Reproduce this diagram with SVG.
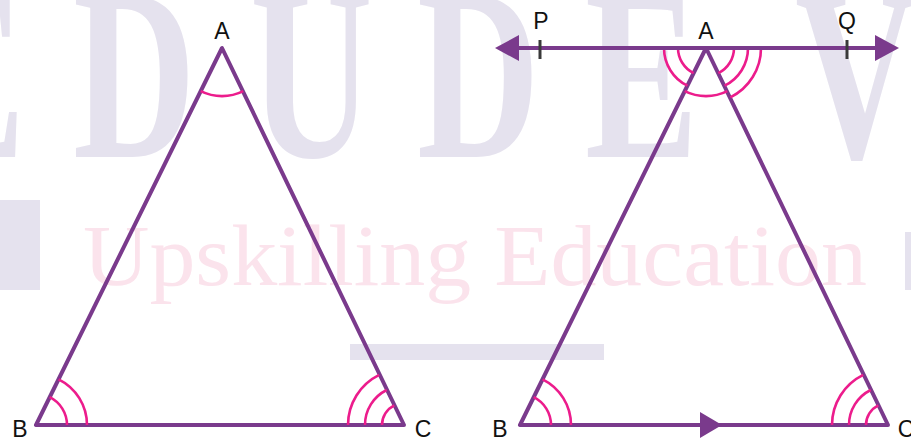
<svg xmlns="http://www.w3.org/2000/svg" width="911" height="441" viewBox="0 0 911 441">
  <style>
    .edge { stroke: #7a3a8c; stroke-width: 4; fill: none; stroke-linecap: round; stroke-linejoin: round; }
    .arc { stroke: #ec1c8c; stroke-width: 2.6; fill: none; }
    .head { fill: #7a3a8c; }
    .tick { stroke: #3a3a3a; stroke-width: 3; }
    .lbl { font-family: "Liberation Sans", Arial, sans-serif; font-size: 23px; fill: #111; text-anchor: middle; }
    .wm1 { font-family: "Liberation Serif", "Times New Roman", serif; font-size: 170px; font-weight: bold; fill: #e5e2ee; }
    .wm2 { font-family: "Liberation Serif", "Times New Roman", serif; font-size: 72px; fill: #fbe3ec; }
  </style>
  <rect width="911" height="441" fill="#ffffff"/>

  <g id="watermark">
    <text class="wm1" transform="scale(1,1.45)" y="108.3"><tspan x="-88">E</tspan><tspan x="73">D</tspan><tspan x="250">U</tspan><tspan x="417">D</tspan><tspan x="585">E</tspan><tspan x="795">V</tspan></text>
    <text class="wm2" transform="scale(1,1.2)" x="83" y="237.5" textLength="784" lengthAdjust="spacingAndGlyphs">Upskilling Education</text>
    <rect x="350" y="344" width="254" height="16" fill="#e5e2ee"/>
    <path d="M0 200 H40 V290 H0 Z" fill="#e5e2ee"/>
    <rect x="905" y="232" width="6" height="58" fill="#e5e2ee"/>
  </g>

  <g id="triangle-left">
    <path class="edge" d="M222 48 L36 425 L404 425 Z"/>
    <path class="arc" d="M200.7 91.1 A48 48 0 0 0 243.3 91.1"/>
    <path class="arc" d="M67 425 A31 31 0 0 0 49.7 397.2"/>
    <path class="arc" d="M87 425 A51 51 0 0 0 58.6 379.3"/>
    <path class="arc" d="M382 425 A22 22 0 0 1 394.3 405.3"/>
    <path class="arc" d="M365 425 A39 39 0 0 1 386.7 390"/>
    <path class="arc" d="M348 425 A56 56 0 0 1 379.2 374.8"/>
    <text class="lbl" x="222" y="39">A</text>
    <text class="lbl" x="20" y="437">B</text>
    <text class="lbl" x="423" y="437">C</text>
  </g>

  <g id="triangle-right">
    <path class="edge" d="M706 48 L520 425 L888 425 Z"/>
    <path class="arc" d="M551 425 A31 31 0 0 0 533.7 397.2"/>
    <path class="arc" d="M571 425 A51 51 0 0 0 542.6 379.3"/>
    <path class="arc" d="M866 425 A22 22 0 0 1 878.3 405.3"/>
    <path class="arc" d="M849 425 A39 39 0 0 1 870.7 390"/>
    <path class="arc" d="M832 425 A56 56 0 0 1 863.2 374.8"/>
    <path class="arc" d="M678 48 A28 28 0 0 0 693.6 73.1"/>
    <path class="arc" d="M664 48 A42 42 0 0 0 687.4 85.7"/>
    <path class="arc" d="M684.7 91.1 A48 48 0 0 0 727.3 91.1"/>
    <path class="arc" d="M734 48 A28 28 0 0 1 718.4 73.1"/>
    <path class="arc" d="M748 48 A42 42 0 0 1 724.6 85.7"/>
    <path class="arc" d="M761 48 A55 55 0 0 1 730.4 97.3"/>
    <text class="lbl" x="706" y="39">A</text>
    <text class="lbl" x="500" y="437">B</text>
    <text class="lbl" x="906" y="437">C</text>
  </g>

  <g id="connectors">
    <line class="edge" x1="505" y1="48" x2="889" y2="48"/>
    <polygon class="head" points="495,48 519,35 519,61"/>
    <polygon class="head" points="899,48 875,35 875,61"/>
    <line class="tick" x1="540" y1="40" x2="540" y2="59"/>
    <line class="tick" x1="847" y1="40" x2="847" y2="59"/>
    <polygon class="head" points="722,425 700,412 700,438"/>
  </g>

  <g id="labels-line">
    <text class="lbl" x="541" y="29">P</text>
    <text class="lbl" x="847" y="29">Q</text>
  </g>
</svg>
